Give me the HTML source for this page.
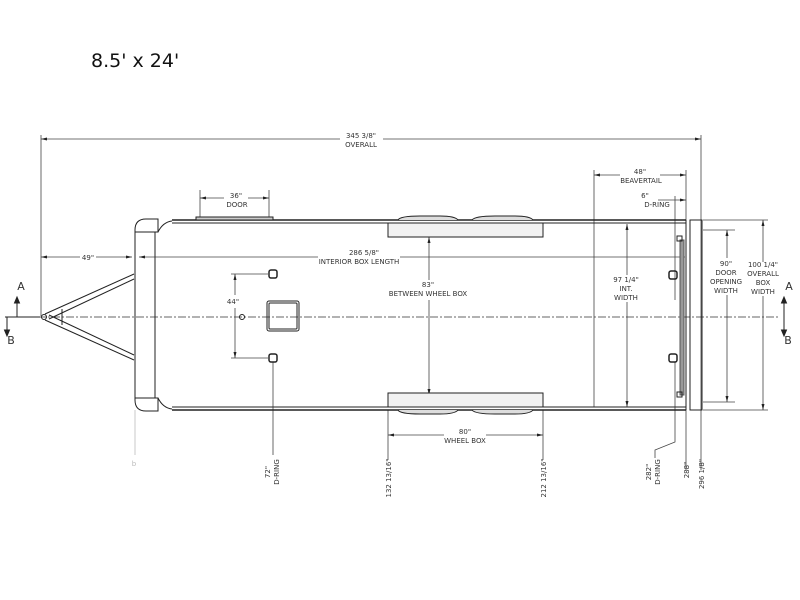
<!DOCTYPE html>
<html><head><style>
html,body{margin:0;padding:0;background:#fff;width:800px;height:600px;overflow:hidden}
svg{display:block}
text{font-family:"DejaVu Sans","Liberation Sans",sans-serif;fill:#333}
.t{font-size:7px;text-anchor:middle}
</style></head><body>
<svg width="800" height="600" viewBox="0 0 800 600" xmlns="http://www.w3.org/2000/svg">
<defs>
<marker id="ar" markerWidth="6" markerHeight="6" refX="6" refY="3" orient="auto-start-reverse" markerUnits="userSpaceOnUse"><path d="M0,1.5 L6,3 L0,4.5z" fill="#222"/></marker>
</defs>
<text x="91" y="67" style="font-size:19px;fill:#111">8.5' x 24'</text>

<g stroke="#444" stroke-width="0.8" fill="none">
<!-- overall -->
<line x1="41" y1="135" x2="41" y2="316"/>
<line x1="701" y1="135" x2="701" y2="470"/>
<line x1="41" y1="139" x2="340" y2="139" marker-start="url(#ar)"/>
<line x1="383" y1="139" x2="701" y2="139" marker-end="url(#ar)"/>
<!-- 49 / 286 -->
<line x1="41" y1="257" x2="80" y2="257" marker-start="url(#ar)"/>
<line x1="96" y1="257" x2="132" y2="257" marker-end="url(#ar)"/>
<line x1="139" y1="257" x2="318" y2="257" marker-start="url(#ar)"/>
<line x1="400" y1="257" x2="685" y2="257"/>
<!-- door -->
<line x1="200" y1="190" x2="200" y2="217"/><line x1="269" y1="190" x2="269" y2="217"/>
<line x1="200" y1="198" x2="224" y2="198" marker-start="url(#ar)"/>
<line x1="248" y1="198" x2="269" y2="198" marker-end="url(#ar)"/>
<!-- beavertail -->
<line x1="594" y1="170" x2="594" y2="407"/>
<line x1="686" y1="170" x2="686" y2="470"/>
<line x1="594" y1="175" x2="620" y2="175" marker-start="url(#ar)"/>
<line x1="660" y1="175" x2="686" y2="175" marker-end="url(#ar)"/>
<line x1="675" y1="196" x2="675" y2="300"/>
<line x1="658" y1="200" x2="686" y2="200" marker-end="url(#ar)"/>
<!-- 83 -->
<line x1="429" y1="237" x2="429" y2="280" marker-start="url(#ar)"/>
<line x1="429" y1="300" x2="429" y2="395" marker-end="url(#ar)"/>
<!-- 97 1/4 -->
<line x1="627" y1="224" x2="627" y2="275" marker-start="url(#ar)"/>
<line x1="627" y1="302" x2="627" y2="407" marker-end="url(#ar)"/>
<!-- 90 -->
<line x1="703" y1="230" x2="735" y2="230"/><line x1="703" y1="402" x2="735" y2="402"/>
<line x1="727" y1="230" x2="727" y2="258" marker-start="url(#ar)"/>
<line x1="727" y1="295" x2="727" y2="402" marker-end="url(#ar)"/>
<!-- 100 1/4 -->
<line x1="703" y1="220" x2="768" y2="220"/><line x1="703" y1="410" x2="768" y2="410"/>
<line x1="763" y1="220" x2="763" y2="262" marker-start="url(#ar)"/>
<line x1="763" y1="296" x2="763" y2="410" marker-end="url(#ar)"/>
<!-- 44 -->
<line x1="231" y1="274" x2="268" y2="274"/><line x1="231" y1="358" x2="268" y2="358"/>
<line x1="235" y1="274" x2="235" y2="295" marker-start="url(#ar)"/>
<line x1="235" y1="308" x2="235" y2="358" marker-end="url(#ar)"/>
<!-- wheel box 80 -->
<line x1="388" y1="410" x2="388" y2="460"/><line x1="543" y1="410" x2="543" y2="460"/>
<line x1="388" y1="435" x2="444" y2="435" marker-start="url(#ar)"/>
<line x1="486" y1="435" x2="543" y2="435" marker-end="url(#ar)"/>
<line x1="273" y1="362" x2="273" y2="455"/>
<polyline points="675,362 675,442 655,450 655,458"/>
<line x1="135" y1="410" x2="135" y2="455" stroke="#bbb"/>
</g>

<!-- centerline -->
<line x1="10" y1="317" x2="780" y2="317" stroke="#333" stroke-width="0.8" stroke-dasharray="8,2,2,2"/>

<!-- trailer body -->
<g stroke="#222" stroke-width="1" fill="none">
<path d="M146,219 L158,219 L158,232 L135,232 L135,230 Q135,219 146,219z"/>
<path d="M146,411 L158,411 L158,398 L135,398 L135,400 Q135,411 146,411z"/>
<line x1="135" y1="230" x2="135" y2="400"/>
<line x1="155" y1="232" x2="155" y2="398"/>
<path d="M158,232 Q163,222 172,221"/><path d="M158,398 Q163,408 172,409"/>
<line x1="172" y1="220" x2="686" y2="220" stroke-width="1.4"/>
<line x1="172" y1="223" x2="686" y2="223"/>
<line x1="172" y1="410" x2="686" y2="410" stroke-width="1.4"/>
<line x1="172" y1="407" x2="686" y2="407"/>
<!-- tongue -->
<line x1="45" y1="314" x2="134" y2="274"/><line x1="49" y1="319" x2="134" y2="279"/>
<line x1="45" y1="320" x2="134" y2="360"/><line x1="49" y1="315" x2="134" y2="355"/>
<line x1="62" y1="309" x2="62" y2="325"/>
<circle cx="44" cy="317" r="2.5"/>
<!-- door plate -->
<rect x="196" y="217" width="77" height="3" fill="#ccc"/>
<!-- wheel boxes -->
<rect x="388" y="223" width="155" height="14" fill="#f2f2f2"/>
<rect x="388" y="393" width="155" height="14" fill="#f2f2f2"/>
<path d="M398,220 Q400,216 420,216 L440,216 Q455,216 458,220" fill="#ddd"/>
<path d="M472,220 Q475,216 495,216 L515,216 Q530,216 533,220" fill="#ddd"/>
<path d="M398,410 Q400,414 420,414 L440,414 Q455,414 458,410" fill="#ddd"/>
<path d="M472,410 Q475,414 495,414 L515,414 Q530,414 533,410" fill="#ddd"/>
<!-- hatch -->
<rect x="267" y="301" width="32" height="30" rx="2"/>
<rect x="269" y="303" width="28" height="26" rx="1"/>
<circle cx="242" cy="317" r="2.5"/>
<rect x="269" y="270" width="8" height="8" rx="2" stroke-width="1.5"/>
<rect x="269" y="354" width="8" height="8" rx="2" stroke-width="1.5"/>
<rect x="669" y="271" width="8" height="8" rx="2" stroke-width="1.5"/>
<rect x="669" y="354" width="8" height="8" rx="2" stroke-width="1.5"/>
<!-- rear -->
<line x1="686" y1="220" x2="686" y2="410"/>
<rect x="680" y="240" width="4" height="155" fill="#999" stroke="#555"/>
<rect x="677" y="236" width="5" height="5"/><rect x="677" y="392" width="5" height="5"/>
<rect x="690" y="220" width="12" height="190"/>
</g>

<!-- A/B -->
<g stroke="#222" stroke-width="1" fill="#222">
<line x1="5" y1="317" x2="40" y2="317" stroke-dasharray="none"/>
<line x1="17" y1="317" x2="17" y2="302"/><path d="M14.5,303 L17,297 L19.5,303z"/>
<line x1="7" y1="317" x2="7" y2="331"/><path d="M4.5,330 L7,336 L9.5,330z"/>
<line x1="784" y1="317" x2="784" y2="302"/><path d="M781.5,303 L784,297 L786.5,303z"/>
<line x1="784" y1="317" x2="784" y2="331"/><path d="M781.5,330 L784,336 L786.5,330z"/>
</g>
<text x="21" y="290" style="font-size:11px" text-anchor="middle">A</text>
<text x="11" y="344" style="font-size:11px" text-anchor="middle">B</text>
<text x="789" y="290" style="font-size:11px" text-anchor="middle">A</text>
<text x="788" y="344" style="font-size:11px" text-anchor="middle">B</text>

<text class="t" x="361" y="138">345 3/8"</text><text class="t" x="361" y="147">OVERALL</text>
<text class="t" x="88" y="260">49"</text>
<text class="t" x="364" y="255">286 5/8"</text><text class="t" x="359" y="264">INTERIOR BOX LENGTH</text>
<text class="t" x="236" y="198">36"</text><text class="t" x="237" y="207">DOOR</text>
<text class="t" x="640" y="174">48"</text><text class="t" x="641" y="183">BEAVERTAIL</text>
<text class="t" x="645" y="198">6"</text><text class="t" x="657" y="207">D-RING</text>
<text class="t" x="428" y="287">83"</text><text class="t" x="428" y="296">BETWEEN WHEEL BOX</text>
<text class="t" x="626" y="282">97 1/4"</text><text class="t" x="626" y="291">INT.</text><text class="t" x="626" y="300">WIDTH</text>
<text class="t" x="726" y="266">90"</text><text class="t" x="726" y="275">DOOR</text><text class="t" x="726" y="284">OPENING</text><text class="t" x="726" y="293">WIDTH</text>
<text class="t" x="763" y="267">100 1/4"</text><text class="t" x="763" y="276">OVERALL</text><text class="t" x="763" y="285">BOX</text><text class="t" x="763" y="294">WIDTH</text>
<text class="t" x="233" y="304">44"</text>
<text class="t" x="465" y="434">80"</text><text class="t" x="465" y="443">WHEEL BOX</text>
<text class="t" transform="translate(270,472) rotate(-90)">72"</text>
<text class="t" transform="translate(279,472) rotate(-90)">D-RING</text>
<text class="t" transform="translate(391,478) rotate(-90)">132 13/16"</text>
<text class="t" transform="translate(546,478) rotate(-90)">212 13/16"</text>
<text class="t" transform="translate(651,472) rotate(-90)">282"</text>
<text class="t" transform="translate(660,472) rotate(-90)">D-RING</text>
<text class="t" transform="translate(689,470) rotate(-90)">288"</text>
<text class="t" transform="translate(704,474) rotate(-90)">296 1/8"</text>
<text class="t" x="134" y="466" style="fill:#bbb">b</text>
</svg>
</body></html>
